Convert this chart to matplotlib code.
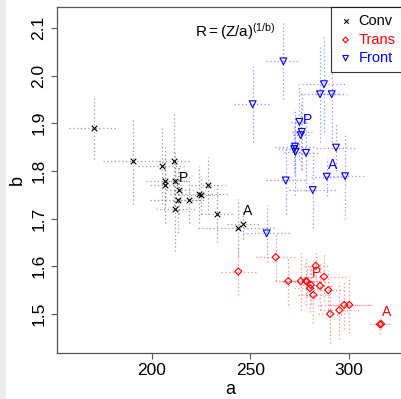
import matplotlib
matplotlib.use("Agg")
import matplotlib.pyplot as plt
import numpy as np

plt.rcParams['font.family'] = ['Liberation Sans', 'DejaVu Sans']
plt.rcParams['mathtext.fontset'] = 'custom'
plt.rcParams['mathtext.rm'] = 'Liberation Sans'
plt.rcParams['mathtext.it'] = 'Liberation Sans'

# Conv (black x)
conv_a = [170.4, 190.2, 204.9, 211.2, 206.8, 206.8, 211.8, 213.9, 213.2, 211.8,
          218.9, 224.0, 224.8, 228.6, 233.1, 246.3, 243.5]
conv_b = [1.891, 1.821, 1.810, 1.821, 1.779, 1.770, 1.779, 1.760, 1.740, 1.721,
          1.740, 1.751, 1.750, 1.770, 1.710, 1.688, 1.681]
conv_ae = [12.4, 15, 12, 8, 10, 8, 6, 7, 14, 10, 6, 15, 9, 9, 8, 8, 20]
conv_be = [0.065, 0.09, 0.08, 0.10, 0.05, 0.08, 0.06, 0.05, 0.07, 0.09,
           0.05, 0.06, 0.04, 0.06, 0.06, 0.03, 0.06]

# Trans (red diamonds)
trans_a = [243.8, 262.8, 269.2, 275.5, 278.2, 278.6, 280.6, 280.2, 281.9, 283.1,
           287.3, 285.3, 289.5, 290.4, 295.1, 297.6, 300.1, 315.7, 316.3]
trans_b = [1.589, 1.619, 1.569, 1.569, 1.569, 1.568, 1.561, 1.554, 1.540, 1.601,
           1.578, 1.559, 1.550, 1.500, 1.508, 1.519, 1.519, 1.478, 1.479]
trans_ae = [9, 10, 7, 10, 8, 12, 6, 8, 8, 6, 12, 6, 8, 6, 10, 14, 10, 5, 3]
trans_be = [0.05, 0.05, 0.05, 0.06, 0.05, 0.03, 0.04, 0.05, 0.06, 0.03,
            0.05, 0.05, 0.04, 0.06, 0.06, 0.05, 0.06, 0.02, 0.01]

# Front (blue triangles)
front_a = [266.7, 251.1, 287.3, 285.3, 291.2, 274.8, 276.0, 275.5, 272.6, 272.2,
           272.8, 278.2, 293.4, 288.7, 298.0, 267.9, 281.6, 258.2]
front_b = [2.030, 1.940, 1.982, 1.961, 1.961, 1.903, 1.882, 1.875, 1.851, 1.846,
           1.840, 1.838, 1.849, 1.788, 1.789, 1.780, 1.760, 1.669]
front_ae = [8.6, 9.5, 11.4, 10, 8, 4, 5, 4, 10, 8, 6, 6, 10, 8, 10, 10, 12, 12]
front_be = [0.08, 0.08, 0.10, 0.10, 0.10, 0.08, 0.08, 0.07, 0.06, 0.05,
            0.09, 0.08, 0.05, 0.04, 0.09, 0.07, 0.08, 0.06]

# P / A labels (position, colour)
lab_txt = ['P', 'A', 'P', 'A', 'P', 'A']
lab_a = [216.0, 248.7, 283.6, 319.0, 278.9, 291.7]
lab_b = [1.786, 1.715, 1.585, 1.503, 1.907, 1.812]
lab_col = ['black', 'black', 'red', 'red', 'blue', 'blue']

fig = plt.figure(figsize=(4.01, 3.99), dpi=100)
fig.patches.append(plt.Rectangle((0, 0), 5 / 401, 1, transform=fig.transFigure,
                                 color='#ebebeb', zorder=0))
ax = fig.add_axes([57 / 401, 46 / 399, 346 / 401, 346 / 399])

groups = [
    (conv_a, conv_b, conv_ae, conv_be, 'x', 'black', '#777777', 'Conv'),
    (trans_a, trans_b, trans_ae, trans_be, 'D', 'red', '#ff6666', 'Trans'),
    (front_a, front_b, front_ae, front_be, 'v', 'blue', '#6f6fff', 'Front'),
]
for a, b, ae, be, m, c, ec, name in groups:
    ax.errorbar(a, b, xerr=ae, yerr=be, fmt='none', ecolor=ec, elinewidth=0.9,
                capsize=0, alpha=0.75)
    if m == 'x':
        ax.scatter(a, b, marker='x', s=16, c=c, linewidths=0.8, label=name, zorder=3)
    elif m == 'D':
        ax.scatter(a, b, marker='D', s=13, facecolors='none', edgecolors=c,
                   linewidths=0.8, label=name, zorder=3)
    else:
        ax.scatter(a, b, marker='v', s=24, facecolors='none', edgecolors=c,
                   linewidths=0.8, label=name, zorder=3)

# dotted error bars
for coll in ax.collections:
    if isinstance(coll, matplotlib.collections.LineCollection):
        coll.set_linestyle((0, (1, 2)))

for t, x, y, c in zip(lab_txt, lab_a, lab_b, lab_col):
    ax.text(x, y, t, color=c, fontsize=10, ha='center', va='center', zorder=4)

ax.text(221.8, 2.093, r'$\mathrm{R = (Z/a)^{(1/b)}}$', fontsize=11,
        ha='left', va='center')

ax.set_xlim(151.8, 327.4)
ax.set_ylim(1.418, 2.144)
ax.set_xticks([200, 250, 300])
ax.set_yticks([1.5, 1.6, 1.7, 1.8, 1.9, 2.0, 2.1])
ax.set_yticklabels(['1.5', '1.6', '1.7', '1.8', '1.9', '2.0', '2.1'],
                   rotation=90, va='center')
ax.tick_params(direction='out', length=4, width=0.8, color='#555555',
               labelsize=12.5)
for s in ax.spines.values():
    s.set_color('#555555')
    s.set_linewidth(0.9)
ax.set_xlabel('a', fontsize=13, labelpad=2)
ax.set_ylabel('b', fontsize=13, labelpad=4)

leg = ax.legend(loc='upper right', fontsize=10.5, frameon=True, fancybox=False,
                edgecolor='black', borderpad=0.5, handletextpad=0.4,
                labelspacing=0.3, borderaxespad=0, handlelength=1.0,
                scatterpoints=1, markerscale=0.8)
leg.get_frame().set_linewidth(0.8)
for txt, c in zip(leg.get_texts(), ['black', 'red', 'blue']):
    txt.set_color(c)

fig.savefig('out.png', dpi=100)
